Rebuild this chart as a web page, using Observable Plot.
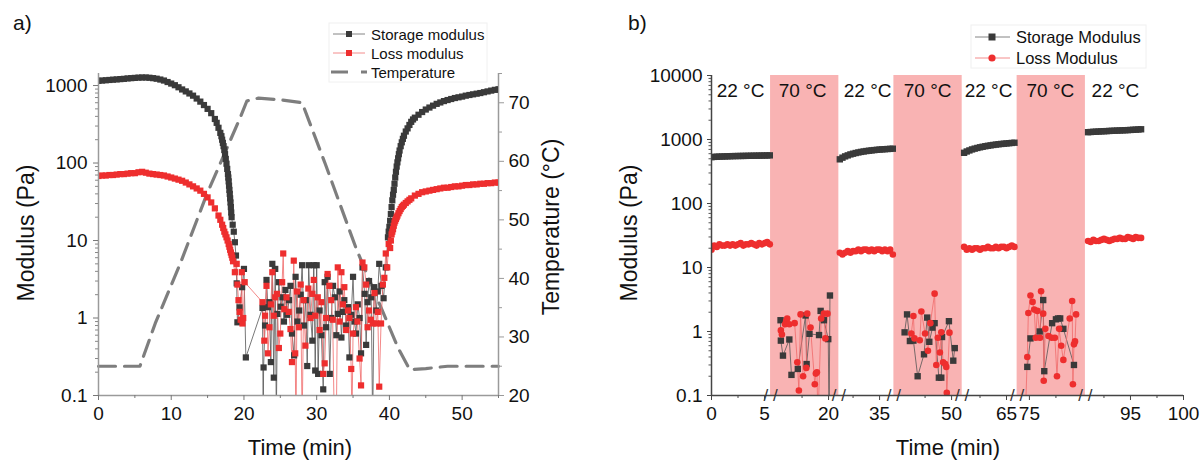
<!DOCTYPE html>
<html><head><meta charset="utf-8">
<script src="https://cdn.jsdelivr.net/npm/d3@7"></script>
<script src="https://cdn.jsdelivr.net/npm/@observablehq/plot@0.6"></script>
<style>
body{margin:0;background:#fff;}
#wrap{position:relative;width:1200px;height:461px;overflow:hidden;background:#fff;}
</style></head>
<body><div id="wrap"></div>
<script>
const FONT = '"Liberation Sans", Arial, Helvetica, sans-serif';

// ---------------- Panel a data: [time (min), value] ----------------
const aStorage = [[0,1150],[0.5,1160],[1,1170],[1.5,1180],[2,1190],[2.5,1200],[3,1210],[3.5,1220],[4,1235],[4.5,1245],[5,1255],[5.5,1265],[6,1270],[6.5,1270],[7,1260],[7.5,1245],[8,1225],[8.5,1195],[9,1160],[9.5,1110],[10,1060],[10.5,1010],[11,950],[11.5,890],[12,840],[12.5,790],[13,740],[13.5,680],[14,620],[14.5,560],[15,500],[15.5,440],[16,370],[16.25,330],[16.5,285],[16.75,245],[16.9,222],[17,200],[17.1,182],[17.2,165],[17.3,147],[17.4,130],[17.5,113],[17.6,98],[17.7,84],[17.8,72],[17.85,65],[17.9,58],[17.95,51],[18,45],[18.05,40],[18.1,35],[18.15,31],[18.2,27],[18.25,23],[18.3,20],[18.45,16],[18.6,13],[18.75,9.5],[18.9,6.4],[19.0,2.8],[19.1,0.88],[19.4,1.37],[19.75,2.5],[20.0,4.3],[20.26,0.31],
[22.55,1.35],[22.65,0.04],[22.7,0.23],[22.9,0.8],[23.1,3.1],[23.3,1.38],[23.5,1.6],[23.7,0.27],[23.9,5.0],[24.1,0.17],[24.3,4.3],[24.45,0.05],[24.6,1.13],[24.8,2.9],[25.05,1.4],[25.3,1.85],[25.5,0.9],[25.7,2.3],[25.95,1.1],[26.2,1.7],[26.4,2.6],[26.6,0.63],[26.9,0.33],[27.1,3.4],[27.35,0.9],[27.6,1.25],[27.8,2.0],[28.0,4.8],[28.25,0.8],[28.5,1.7],[28.7,0.24],[28.9,4.8],[29.15,1.1],[29.4,0.51],[29.6,4.8],[29.8,0.21],[30.0,4.8],[30.2,0.19],[30.4,1.25],[30.65,0.6],[30.9,0.12],[31.1,2.9],[31.3,0.76],[31.5,3.4],[31.8,0.19],[32.0,1.0],[32.25,2.6],[32.5,1.85],[32.7,0.6],[32.9,1.13],[33.15,2.2],[33.4,0.56],[33.6,1.2],[33.8,1.7],[34.05,0.8],[34.3,1.38],[34.5,0.31],[34.75,1.1],[35.0,3.4],[35.2,0.9],[35.4,0.63],[35.65,1.5],[35.9,1.0],[36.1,0.35],[36.3,4.5],[36.6,2.05],[36.8,0.45],[37.0,1.6],[37.2,3.0],[37.5,1.85],[37.7,0.04],[37.9,2.5],[38.2,1.25],[38.4,2.2],[38.6,5.0],[38.9,2.6],[39.2,1.8],[39.5,4.5],
[39.8,11],[39.9,13],[40.0,15],[40.1,18],[40.2,22],[40.3,27],[40.4,33],[40.5,39],[40.6,45],[40.7,54],[40.8,65],[40.9,77],[41.0,90],[41.1,102],[41.2,115],[41.3,130],[41.4,145],[41.55,165],[41.7,185],[41.85,205],[42.0,225],[42.25,255],[42.5,280],[42.75,310],[43,340],[43.25,365],[43.5,385],[44,420],[44.5,455],[45,490],[45.5,520],[46,550],[46.5,580],[47,605],[47.5,630],[48,650],[48.5,670],[49,690],[49.5,705],[50,720],[50.5,740],[51,755],[51.5,770],[52,785],[52.5,800],[53,820],[53.5,840],[54,860],[54.5,880],[55,895]];

const aLoss = [[0,68],[0.5,69],[1,69],[1.5,70],[2,70],[2.5,71],[3,72],[3.5,72],[4,73],[4.5,74],[5,74],[5.5,76],[6,77],[6.5,75],[7,73],[7.5,72],[8,71],[8.5,70],[9,69],[9.5,67],[10,65],[10.5,63],[11,61],[11.5,59],[12,56],[12.5,53],[13,50],[13.5,47],[14,44],[14.5,40],[15,36],[15.5,31],[16,26],[16.5,21],[16.75,18.5],[17,16],[17.15,14.5],[17.3,13],[17.45,12],[17.6,11],[17.75,10],[17.9,9],[18.0,8.3],[18.1,7.6],[18.2,7.0],[18.3,6.5],[18.4,6.0],[18.5,5.4],[18.75,3.9],[19.0,5.0],[19.1,2.7],[19.25,1.7],[19.4,1.2],[19.55,0.95],[19.7,3.9],[19.8,0.85],[19.9,1.0],[20.1,2.9],
[22.55,1.6],[22.8,0.51],[22.9,1.07],[23.1,2.6],[23.3,0.35],[23.5,0.76],[23.7,1.5],[23.9,3.9],[24.1,1.07],[24.3,1.85],[24.55,2.05],[24.8,0.41],[25.0,0.63],[25.25,2.9],[25.4,6.8],[25.55,1.3],[25.85,1.85],[26.15,1.2],[26.4,0.72],[26.6,0.27],[26.85,5.5],[27.05,0.35],[27.15,0.03],[27.3,2.2],[27.55,0.76],[27.8,2.7],[28.0,0.04],[28.2,1.7],[28.45,0.44],[28.85,2.4],[29.15,1.0],[29.4,2.05],[29.6,3.1],[29.8,1.07],[30.15,1.85],[30.4,0.7],[30.65,1.6],[30.9,0.19],[31.1,0.26],[31.3,1.0],[31.5,3.7],[31.75,2.6],[32.0,1.7],[32.2,0.95],[32.45,0.03],[32.7,0.04],[32.9,4.5],[33.15,0.9],[33.4,3.9],[33.6,1.5],[33.8,2.5],[34.05,0.7],[34.3,1.25],[34.5,1.0],[34.75,0.22],[34.85,0.04],[35.0,0.63],[35.4,1.38],[35.6,0.9],[35.9,0.30],[36.1,0.135],[36.3,5.2],[36.55,4.5],[36.8,2.7],[37.0,0.76],[37.2,1.25],[37.45,0.95],[37.7,0.85],[37.95,2.1],[38.2,0.85],[38.4,1.2],[38.6,0.13],[38.85,0.85],[39.1,2.7],[39.3,3.3],[39.5,6.8],[39.7,4.5],[39.9,9],
[40.1,8],[40.2,10],[40.3,12],[40.4,13],[40.5,14],[40.6,15.5],[40.7,17],[40.8,18],[40.9,19],[41.0,20],[41.1,21],[41.25,22.5],[41.4,24],[41.55,25.5],[41.7,27],[41.85,28],[42,29],[42.25,30.5],[42.5,32],[42.75,33.5],[43,35],[43.5,38],[44,40],[44.5,42],[45,43],[45.5,44],[46,45],[46.5,46],[47,47],[47.5,48],[48,48],[48.5,49],[49,50],[49.5,50],[50,51],[50.5,52],[51,52],[51.5,53],[52,53],[52.5,54],[53,54],[53.5,55],[54,55],[54.5,56],[55,56]];

const aTemperature = [[0,25],[5.7,25],[7.8,32.3],[11.2,42.4],[14.9,54.4],[17.5,61.8],[19.5,67.5],[20.4,70.3],[22,70.8],[25,70.5],[28,70],[31.2,59.5],[35.4,45.2],[41.2,28.1],[42.8,24.4],[45,24.6],[48,25],[55,25]];

const aTicksX = [0,10,20,30,40,50];
const aMinorX = [5,15,25,35,45,55];
const aTicksY = [0.1,1,10,100,1000];
const aTicksT = [20,30,40,50,60,70];
const aMinorT = [25,35,45,55,65,75];

// ---------------- Panel b data: [time (min), value] ----------------
const bStorage = [
[0,530],[0.25,535],[0.5,538],[0.75,540],[1,542],[1.25,544],[1.5,546],[1.75,548],[2,550],[2.25,551],[2.5,552],[2.75,553],[3,554],[3.25,555],[3.5,556],[3.75,557],[4,558],[4.25,559],[4.5,560],[4.75,561],[5,562],[5.25,563],[5.5,565],
[15.47,1.5],[15.5,0.72],[15.7,0.42],[16.3,0.75],[16.5,0.21],[17.1,0.26],[17.83,1.78],[17.93,0.31],[18.2,0.92],[19.1,0.88],[19.25,2.1],[19.56,1.5],[19.97,0.76],[20.05,0.04],[20.13,3.65],
[31.25,490],[31.5,520],[31.75,545],[32,565],[32.25,585],[32.5,600],[32.75,615],[33,628],[33.25,640],[33.5,650],[33.75,660],[34,668],[34.25,676],[34.5,683],[34.75,690],[35,696],[35.25,701],[35.5,706],[35.75,710],[36,714],[36.25,718],
[45.57,0.97],[45.8,1.85],[46.07,0.71],[46.4,0.72],[46.8,0.2],[47.4,0.44],[47.7,1.65],[47.9,0.69],[48.2,1.15],[48.4,1.35],[48.8,0.19],[49.03,0.19],[49.1,0.82],[49.75,1.45],[50.16,0.35],[50.3,0.55],
[61,620],[61.25,650],[61.5,675],[61.75,700],[62,720],[62.25,738],[62.5,755],[62.75,770],[63,785],[63.25,798],[63.5,810],[63.75,822],[64,833],[64.25,843],[64.5,852],[64.75,860],[65,868],[65.25,876],[65.5,884],[65.75,891],
[74.8,0.28],[75.1,0.78],[75.97,1.0],[76.3,3.1],[76.4,0.24],[77.14,1.35],[77.5,1.55],[77.7,1.6],[77.9,1.6],[78.2,1.1],[79.2,0.3],
[91,1300],[91.25,1310],[91.5,1318],[91.75,1325],[92,1332],[92.25,1340],[92.5,1347],[92.75,1353],[93,1360],[93.25,1366],[93.5,1372],[93.75,1378],[94,1384],[94.25,1390],[94.5,1396],[94.75,1402],[95,1410],[95.25,1418],[95.5,1426],[95.75,1435],[96,1445]];

const bLoss = [
[0,19],[0.25,22],[0.5,21],[0.75,23],[1,22],[1.25,22],[1.5,23],[1.75,22],[2,23],[2.25,22],[2.5,23],[2.75,24],[3,22],[3.25,23],[3.5,23],[3.75,24],[4,23],[4.25,22],[4.5,24],[4.75,23],[5,24],[5.25,25],[5.5,23],
[15.5,1.04],[15.6,0.9],[15.9,1.3],[16.0,1.45],[16.1,1.6],[16.3,1.3],[16.8,1.35],[17.05,0.33],[17.2,0.12],[17.36,1.85],[17.6,0.2],[17.9,0.27],[17.99,1.9],[18.3,1.15],[18.7,0.15],[18.8,0.22],[18.9,0.23],[19.0,0.04],[19.3,1.6],[19.56,1.9],[19.7,0.78],[19.9,1.9],
[31.25,17],[31.5,16],[31.75,17],[32,18],[32.25,17],[32.5,18],[32.75,18],[33,19],[33.25,18],[33.5,19],[33.75,19],[34,18],[34.25,19],[34.5,18],[34.75,19],[35,19],[35.25,18],[35.5,19],[35.75,18],[36,19],[36.25,16],
[46.2,0.93],[46.4,1.75],[46.5,0.78],[47.0,0.73],[47.15,2.05],[47.5,0.93],[47.77,0.5],[48.0,1.35],[48.4,3.9],[48.56,0.3],[48.7,0.8],[48.9,0.47],[49.03,0.97],[49.2,0.33],[49.4,0.31],[49.5,0.28],[49.55,0.11],[49.8,0.96],
[61,21],[61.25,19],[61.5,20],[61.75,19],[62,20],[62.25,20],[62.5,19],[62.75,20],[63,20],[63.25,21],[63.5,20],[63.75,20],[64,21],[64.25,20],[64.5,21],[64.75,21],[65,20],[65.25,21],[65.5,22],[65.75,21],
[74.6,0.04],[74.8,0.4],[74.9,1.95],[75.1,3.65],[75.3,2.9],[75.45,2.2],[75.6,0.8],[75.75,2.1],[76.0,0.8],[76.1,4.25],[76.3,1.9],[76.35,0.17],[76.5,1.1],[76.8,0.85],[77.1,0.8],[77.4,0.8],[77.6,0.2],[77.8,1.1],[78.0,0.6],[78.2,0.36],[78.8,1.6],[79.03,3.0],[79.1,0.15],[79.2,0.63],[79.3,0.7],[79.4,1.85],
[91,26],[91.25,25],[91.5,27],[91.75,26],[92,26],[92.25,27],[92.5,28],[92.75,27],[93,26],[93.25,27],[93.5,28],[93.75,28],[94,29],[94.25,28],[94.5,28],[94.75,30],[95,29],[95.25,28],[95.5,30],[95.75,29],[96,29]];

const bHot = [[14.53,20.97],[44.56,51.0],[73.84,80.28]];          // 70 °C periods (min)
const bBreaks = [5.57,20.97,36.35,51.0,66.0,80.28];                 // axis breaks (min)
const bTempLabels = [["22 °C",2.74],["70 °C",17.55],["22 °C",33.87],["70 °C",47.74],["22 °C",63.3],["70 °C",76.98],["22 °C",93.58]];
const bTempLabelLevel = 5800;
const bTicksX = [0,5,20,35,50,65,75,95,100];
const bMinorX = [2.5,17.5,32.5,47.5,62.5,77.5,92.5,97.5];
const bTicksY = [0.1,1,10,100,1000,10000];

// broken time axis: visible time windows, each drawn at the same min-per-pixel rate
const bAxisTimes = [0,5.57,14.53,20.97,31.16,36.35,44.56,51.0,60.82,66.0,73.84,80.28,90.75,100];
const bAxisUnits = [0,5.57,5.57,12.01,12.01,17.2,17.2,23.64,23.64,28.82,28.82,35.26,35.26,44.51];

// ---------------- helpers ----------------
function minorLog(lo, hi) {
  const out = [];
  for (let e = -1; e < 5; e++) for (let k = 2; k < 10; k++) {
    const v = +(k * Math.pow(10, e)).toPrecision(3);
    if (v > lo && v < hi) out.push(v);
  }
  return out;
}
const brokenTime = d3.scaleLinear().domain(bAxisTimes).range(bAxisUnits);
const bTickUnits = bTicksX.map(t => brokenTime(t));
const bTickLabel = new Map(bTicksX.map(t => [brokenTime(t), String(t)]));
const segOf = t => bBreaks.filter(b => t > b).length;
const wrap = document.getElementById("wrap");
function place(el, left) {
  el.style.position = "absolute"; el.style.left = left + "px"; el.style.top = "0px";
  wrap.appendChild(el);
}
const baseStyle = {background: "transparent", fontFamily: FONT, fontSize: "19px", color: "#111", overflow: "visible"};
const dark = "#3a3a3a", red = "#ee2e2e";

// ---------------- Panel a ----------------
const aOpts = {width: 600, height: 461, marginTop: 73, marginBottom: 66, marginLeft: 98, marginRight: 102, style: baseStyle};

const aTempPlot = Plot.plot({
  ...aOpts,
  x: {domain: [0, 55], axis: null},
  y: {domain: [20, 75], axis: null},
  marks: [
    Plot.line(aTemperature, {x: d => d[0], y: d => d[1], stroke: "#7e7e7e", strokeWidth: 3.2, strokeDasharray: "17,9"}),
    Plot.ruleX([55], {stroke: "#9a9a9a", strokeWidth: 1.5}),
    Plot.axisY({anchor: "right", ticks: aTicksT, tickSize: 5, tickPadding: 5, label: null, stroke: "#9a9a9a", fill: "#111", fontSize: 19}),
    Plot.axisY({anchor: "right", ticks: aMinorT, tickSize: 3, tickFormat: () => "", label: null, stroke: "#9a9a9a"})
  ]
});
place(aTempPlot, 0);

const aMain = Plot.plot({
  ...aOpts,
  x: {domain: [0, 55]},
  y: {type: "log", domain: [0.1, 1430]},
  marks: [
    Plot.line(aStorage, {x: d => d[0], y: d => d[1], stroke: "#555", strokeWidth: 0.8, clip: true}),
    Plot.line(aLoss, {x: d => d[0], y: d => d[1], stroke: "#f06a6a", strokeWidth: 0.8, clip: true}),
    Plot.dot(aStorage, {x: d => d[0], y: d => d[1], symbol: "square", r: 3.5, fill: dark, clip: true}),
    Plot.dot(aLoss, {x: d => d[0], y: d => d[1], symbol: "square", r: 3.5, fill: red, clip: true}),
    Plot.ruleX([0], {stroke: "#9a9a9a", strokeWidth: 1.5}),
    Plot.ruleY([0.1], {stroke: "#9a9a9a", strokeWidth: 1.5}),
    Plot.axisX({ticks: aTicksX, tickSize: 5, tickPadding: 6, label: null, stroke: "#777", fill: "#111", fontSize: 19}),
    Plot.axisX({ticks: aMinorX, tickSize: 3, tickFormat: () => "", label: null, stroke: "#777"}),
    Plot.axisY({ticks: aTicksY, tickSize: 5, tickPadding: 6, tickFormat: d => String(d), label: null, stroke: "#777", fill: "#111", fontSize: 19}),
    Plot.axisY({ticks: minorLog(0.1, 1430), tickSize: 3, tickFormat: () => "", label: null, stroke: "#888"})
  ]
});
place(aMain, 0);

// ---------------- Panel b ----------------
const bMain = Plot.plot({
  width: 600, height: 461, marginTop: 75, marginBottom: 66, marginLeft: 111, marginRight: 17, style: baseStyle,
  x: {transform: brokenTime, domain: [0, brokenTime(100)]},
  y: {type: "log", domain: [0.1, 10000]},
  marks: [
    Plot.rect(bHot, {x1: d => d[0], x2: d => d[1], y1: () => 0.1, y2: () => 10000, fill: "#f9b3b3"}),
    Plot.text(bTempLabels, {x: d => d[1], y: () => bTempLabelLevel, text: d => d[0], fontSize: 19, fill: "#111"}),
    Plot.line(bStorage, {x: d => d[0], y: d => d[1], z: d => segOf(d[0]), stroke: "#555", strokeWidth: 0.8, clip: true}),
    Plot.line(bLoss, {x: d => d[0], y: d => d[1], z: d => segOf(d[0]), stroke: "#f06a6a", strokeWidth: 0.8, clip: true}),
    Plot.dot(bStorage, {x: d => d[0], y: d => d[1], symbol: "square", r: 3.6, fill: dark, clip: true}),
    Plot.dot(bLoss, {x: d => d[0], y: d => d[1], r: 3.3, fill: red, clip: true}),
    Plot.ruleX([0], {stroke: "#444", strokeWidth: 1.5}),
    Plot.ruleY([0.1], {stroke: "#444", strokeWidth: 1.5}),
    Plot.text(bBreaks, {x: d => d, y: () => 0.1, text: () => "/ /", fontSize: 17, fill: "#333"}),
    // axis ticks are given in the scale's (broken-axis) units, labelled with their time
    Plot.axisX({ticks: bTickUnits, tickFormat: u => bTickLabel.get(u), tickSize: 5, tickPadding: 6, label: null, stroke: "#444", fill: "#111", fontSize: 19}),
    Plot.axisX({ticks: bMinorX.map(t => brokenTime(t)), tickSize: 3, tickFormat: () => "", label: null, stroke: "#444"}),
    Plot.axisY({ticks: bTicksY, tickSize: 4, tickPadding: 5, tickFormat: d => String(d), label: null, stroke: "#444", fill: "#111", fontSize: 19}),
    Plot.axisY({ticks: minorLog(0.1, 10000), tickSize: 2.5, tickFormat: () => "", label: null, stroke: "#555"})
  ]
});
place(bMain, 600);

// ---------------- Titles, axis labels & legends ----------------
const ov = d3.create("svg").attr("width", 1200).attr("height", 461)
  .style("font-family", FONT).style("pointer-events", "none");
function txt(x, y, s, size, opts = {}) {
  const t = ov.append("text").attr("x", x).attr("y", y).text(s)
    .attr("font-size", size).attr("fill", "#111")
    .attr("text-anchor", opts.anchor || "start").attr("dominant-baseline", "central");
  if (opts.rot) t.attr("transform", `rotate(-90 ${x} ${y})`);
  return t;
}
txt(13, 22, "a)", 21);
txt(628, 22, "b)", 21);
txt(26, 233, "Modulus (Pa)", 23, {anchor: "middle", rot: true});
txt(551, 227, "Temperature (°C)", 23, {anchor: "middle", rot: true});
txt(300, 447, "Time (min)", 22, {anchor: "middle"});
txt(629, 233, "Modulus (Pa)", 23, {anchor: "middle", rot: true});
txt(948, 447, "Time (min)", 22, {anchor: "middle"});

// legend a
ov.append("rect").attr("x", 329).attr("y", 23).attr("width", 158).attr("height", 59).attr("fill", "#fff").attr("stroke", "#f0f0f0");
[[34, "#666", dark, "Storage modulus"], [53, "#f07070", red, "Loss modulus"]].forEach(([y, lc, mc, s]) => {
  ov.append("line").attr("x1", 333).attr("x2", 365).attr("y1", y).attr("y2", y).attr("stroke", lc).attr("stroke-width", 0.8);
  ov.append("rect").attr("x", 346).attr("y", y - 3).attr("width", 6).attr("height", 6).attr("fill", mc);
  txt(371, y, s, 15);
});
ov.append("line").attr("x1", 331).attr("x2", 367).attr("y1", 72).attr("y2", 72).attr("stroke", "#7e7e7e").attr("stroke-width", 3).attr("stroke-dasharray", "17,13");
txt(371, 72, "Temperature", 15);

// legend b
ov.append("rect").attr("x", 971).attr("y", 25).attr("width", 175).attr("height", 43).attr("fill", "#fff").attr("stroke", "#f0f0f0");
ov.append("line").attr("x1", 975).attr("x2", 1010).attr("y1", 37).attr("y2", 37).attr("stroke", "#666").attr("stroke-width", 0.8);
ov.append("rect").attr("x", 988.5).attr("y", 33.5).attr("width", 7).attr("height", 7).attr("fill", dark);
txt(1016, 37, "Storage Modulus", 16.5);
ov.append("line").attr("x1", 975).attr("x2", 1010).attr("y1", 58).attr("y2", 58).attr("stroke", "#f07070").attr("stroke-width", 0.8);
ov.append("circle").attr("cx", 992).attr("cy", 58).attr("r", 3.6).attr("fill", red);
txt(1016, 58, "Loss Modulus", 16.5);

place(ov.node(), 0);
</script>
</body></html>
